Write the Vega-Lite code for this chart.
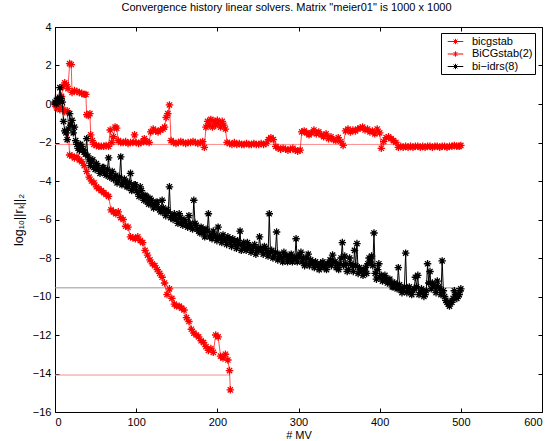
{
  "$schema": "https://vega.github.io/schema/vega-lite/v6.json",
  "width": 487,
  "height": 385,
  "autosize": "none",
  "padding": {"left": 55, "top": 27, "right": 8, "bottom": 29},
  "background": "white",
  "config": {
    "font": "Liberation Sans",
    "view": {"stroke": "#000000", "strokeWidth": 1},
    "axis": {"labelFontSize": 11, "labelColor": "#000", "titleFontSize": 11, "titleFontWeight": "normal", "titleColor": "#000", "tickColor": "#000", "grid": false, "domain": false, "tickSize": -4, "labelPadding": 8}
  },
  "title": {"text": "Convergence history linear solvers. Matrix \"meier01\" is 1000 x 1000", "fontSize": 11, "fontWeight": "normal", "color": "#000", "offset": 8, "dx": -12},
  "datasets": {
    "refs": [
      {"s": "bicgstab", "x": 0, "x2": 500, "y": -2.1},
      {"s": "BiCGstab(2)", "x": 0, "x2": 216, "y": -14.08},
      {"s": "bi-idrs(8)", "x": 0, "x2": 500, "y": -9.55}
    ],
    "bicgstab": [
      {"x":0,"y":0.0},{"x":2,"y":-0.2},{"x":4,"y":-0.1},{"x":6,"y":0.2},{"x":8,"y":0.4},{"x":10,"y":0.9},{"x":12,"y":1.1},{"x":14,"y":1.0},{"x":16,"y":0.8},{"x":18,"y":2.1},{"x":20,"y":2.05},{"x":21,"y":0.6},{"x":24,"y":0.7},{"x":27,"y":0.65},{"x":30,"y":0.6},{"x":33,"y":0.55},{"x":36,"y":0.5},{"x":38,"y":0.5},{"x":39,"y":-0.55},{"x":41,"y":-0.6},{"x":43,"y":-0.5},{"x":44,"y":-1.6},{"x":46,"y":-1.9},{"x":48,"y":-2.1},{"x":51,"y":-2.15},{"x":54,"y":-2.2},{"x":57,"y":-2.2},{"x":60,"y":-2.2},{"x":63,"y":-2.15},{"x":66,"y":-2.2},{"x":68,"y":-1.35},{"x":70,"y":-2.0},{"x":72,"y":-1.7},{"x":74,"y":-1.2},{"x":76,"y":-1.25},{"x":78,"y":-1.9},{"x":81,"y":-2.0},{"x":84,"y":-2.0},{"x":87,"y":-1.95},{"x":90,"y":-2.05},{"x":93,"y":-2.0},{"x":96,"y":-2.0},{"x":98,"y":-1.6},{"x":100,"y":-2.0},{"x":103,"y":-2.05},{"x":106,"y":-2.0},{"x":109,"y":-1.95},{"x":110,"y":-1.8},{"x":113,"y":-1.95},{"x":116,"y":-2.0},{"x":118,"y":-1.45},{"x":121,"y":-1.3},{"x":124,"y":-1.4},{"x":127,"y":-1.45},{"x":130,"y":-1.35},{"x":133,"y":-1.3},{"x":135,"y":-1.2},{"x":137,"y":-0.7},{"x":139,"y":-0.5},{"x":141,"y":-0.05},{"x":143,"y":-1.9},{"x":146,"y":-2.0},{"x":149,"y":-2.05},{"x":152,"y":-2.0},{"x":155,"y":-1.95},{"x":158,"y":-2.0},{"x":161,"y":-2.05},{"x":164,"y":-2.0},{"x":167,"y":-2.0},{"x":170,"y":-1.95},{"x":173,"y":-2.0},{"x":176,"y":-2.05},{"x":179,"y":-2.0},{"x":182,"y":-1.95},{"x":184,"y":-2.25},{"x":186,"y":-1.2},{"x":188,"y":-0.9},{"x":190,"y":-1.1},{"x":192,"y":-0.8},{"x":194,"y":-1.2},{"x":196,"y":-0.9},{"x":198,"y":-1.1},{"x":200,"y":-0.85},{"x":202,"y":-1.0},{"x":204,"y":-1.2},{"x":206,"y":-0.9},{"x":208,"y":-1.1},{"x":210,"y":-1.3},{"x":212,"y":-2.0},{"x":215,"y":-2.05},{"x":218,"y":-2.1},{"x":221,"y":-2.0},{"x":224,"y":-2.1},{"x":227,"y":-2.05},{"x":230,"y":-2.1},{"x":233,"y":-2.1},{"x":236,"y":-2.05},{"x":239,"y":-2.1},{"x":242,"y":-2.1},{"x":245,"y":-2.05},{"x":248,"y":-2.1},{"x":251,"y":-2.1},{"x":254,"y":-2.05},{"x":257,"y":-2.1},{"x":260,"y":-2.05},{"x":263,"y":-1.85},{"x":266,"y":-1.75},{"x":269,"y":-1.85},{"x":272,"y":-2.2},{"x":275,"y":-2.3},{"x":278,"y":-2.35},{"x":281,"y":-2.3},{"x":284,"y":-2.35},{"x":287,"y":-2.4},{"x":290,"y":-2.35},{"x":293,"y":-2.3},{"x":296,"y":-2.4},{"x":299,"y":-2.45},{"x":302,"y":-2.4},{"x":304,"y":-1.45},{"x":307,"y":-1.4},{"x":310,"y":-1.5},{"x":313,"y":-1.6},{"x":316,"y":-1.5},{"x":319,"y":-1.35},{"x":322,"y":-1.55},{"x":325,"y":-1.45},{"x":328,"y":-1.6},{"x":331,"y":-1.7},{"x":334,"y":-1.55},{"x":337,"y":-1.8},{"x":340,"y":-1.7},{"x":343,"y":-1.85},{"x":346,"y":-1.9},{"x":349,"y":-1.75},{"x":352,"y":-1.95},{"x":355,"y":-2.15},{"x":358,"y":-1.4},{"x":361,"y":-1.3},{"x":364,"y":-1.45},{"x":367,"y":-1.35},{"x":370,"y":-1.4},{"x":373,"y":-1.3},{"x":376,"y":-1.25},{"x":379,"y":-1.2},{"x":382,"y":-1.35},{"x":385,"y":-1.3},{"x":388,"y":-1.45},{"x":391,"y":-1.4},{"x":394,"y":-1.55},{"x":397,"y":-1.3},{"x":400,"y":-1.5},{"x":402,"y":-2.3},{"x":405,"y":-1.95},{"x":408,"y":-1.75},{"x":411,"y":-1.7},{"x":414,"y":-1.8},{"x":417,"y":-1.9},{"x":420,"y":-2.0},{"x":423,"y":-2.25},{"x":426,"y":-2.2},{"x":429,"y":-2.25},{"x":432,"y":-2.2},{"x":435,"y":-2.25},{"x":438,"y":-2.2},{"x":441,"y":-2.25},{"x":444,"y":-2.2},{"x":447,"y":-2.2},{"x":450,"y":-2.25},{"x":453,"y":-2.2},{"x":456,"y":-2.25},{"x":459,"y":-2.2},{"x":462,"y":-2.2},{"x":465,"y":-2.25},{"x":468,"y":-2.2},{"x":471,"y":-2.2},{"x":474,"y":-2.25},{"x":477,"y":-2.2},{"x":480,"y":-2.2},{"x":483,"y":-2.25},{"x":486,"y":-2.2},{"x":489,"y":-2.2},{"x":492,"y":-2.15},{"x":495,"y":-2.2},{"x":498,"y":-2.2},{"x":500,"y":-2.15}
    ],
    "bicgstab2": [
      {"x":0,"y":0.0},{"x":3,"y":-0.1},{"x":6,"y":-0.3},{"x":9,"y":-0.2},{"x":12,"y":-0.4},{"x":15,"y":-0.35},{"x":18,"y":-2.65},{"x":21,"y":-2.7},{"x":24,"y":-2.8},{"x":27,"y":-2.75},{"x":30,"y":-2.9},{"x":33,"y":-3.0},{"x":36,"y":-3.2},{"x":39,"y":-3.5},{"x":42,"y":-3.8},{"x":45,"y":-4.0},{"x":48,"y":-4.1},{"x":51,"y":-4.3},{"x":54,"y":-4.4},{"x":57,"y":-4.5},{"x":60,"y":-4.6},{"x":63,"y":-4.7},{"x":66,"y":-4.8},{"x":69,"y":-5.5},{"x":72,"y":-5.6},{"x":75,"y":-5.7},{"x":78,"y":-5.6},{"x":81,"y":-5.9},{"x":84,"y":-6.0},{"x":87,"y":-6.35},{"x":90,"y":-6.4},{"x":93,"y":-6.9},{"x":96,"y":-6.95},{"x":99,"y":-7.0},{"x":102,"y":-6.9},{"x":105,"y":-7.1},{"x":108,"y":-7.2},{"x":111,"y":-7.6},{"x":114,"y":-7.85},{"x":117,"y":-8.1},{"x":120,"y":-8.3},{"x":123,"y":-8.4},{"x":126,"y":-8.6},{"x":129,"y":-8.8},{"x":132,"y":-9.0},{"x":135,"y":-9.3},{"x":138,"y":-9.9},{"x":141,"y":-9.6},{"x":144,"y":-10.1},{"x":147,"y":-10.4},{"x":150,"y":-10.5},{"x":153,"y":-10.5},{"x":156,"y":-10.6},{"x":159,"y":-10.7},{"x":162,"y":-11.1},{"x":165,"y":-11.3},{"x":168,"y":-11.7},{"x":171,"y":-11.9},{"x":174,"y":-12.0},{"x":177,"y":-12.1},{"x":180,"y":-12.3},{"x":183,"y":-12.4},{"x":186,"y":-12.6},{"x":189,"y":-12.8},{"x":192,"y":-12.7},{"x":195,"y":-12.9},{"x":198,"y":-12.0},{"x":201,"y":-12.1},{"x":204,"y":-13.1},{"x":207,"y":-13.2},{"x":210,"y":-13.0},{"x":213,"y":-13.3},{"x":215,"y":-13.85},{"x":216,"y":-14.85}
    ],
    "biidrs8": [
      {"x":0,"y":0.1},{"x":3,"y":0.3},{"x":6,"y":0.85},{"x":9,"y":0.1},{"x":12,"y":-1.4},{"x":15,"y":-1.85},{"x":18,"y":-0.5},{"x":21,"y":-0.85},{"x":24,"y":-1.2},{"x":27,"y":-2.1},{"x":30,"y":-2.4},{"x":33,"y":-2.2},{"x":36,"y":-2.5},{"x":39,"y":-1.8},{"x":42,"y":-2.9},{"x":45,"y":-3.0},{"x":48,"y":-3.3},{"x":51,"y":-3.1},{"x":54,"y":-3.4},{"x":57,"y":-3.5},{"x":60,"y":-3.3},{"x":63,"y":-3.7},{"x":66,"y":-2.8},{"x":69,"y":-3.6},{"x":72,"y":-3.9},{"x":75,"y":-3.7},{"x":78,"y":-4.0},{"x":81,"y":-2.75},{"x":84,"y":-4.1},{"x":87,"y":-4.0},{"x":90,"y":-4.3},{"x":93,"y":-3.6},{"x":96,"y":-4.4},{"x":99,"y":-4.2},{"x":102,"y":-4.6},{"x":105,"y":-4.3},{"x":108,"y":-4.8},{"x":111,"y":-4.75},{"x":114,"y":-5.1},{"x":117,"y":-4.9},{"x":120,"y":-5.2},{"x":123,"y":-5.3},{"x":126,"y":-5.1},{"x":129,"y":-5.5},{"x":132,"y":-5.0},{"x":135,"y":-5.6},{"x":138,"y":-5.5},{"x":141,"y":-4.3},{"x":144,"y":-5.8},{"x":147,"y":-5.7},{"x":150,"y":-6.0},{"x":153,"y":-5.7},{"x":156,"y":-6.2},{"x":159,"y":-6.0},{"x":162,"y":-6.3},{"x":165,"y":-5.8},{"x":168,"y":-6.4},{"x":171,"y":-5.0},{"x":174,"y":-6.3},{"x":177,"y":-6.6},{"x":180,"y":-6.4},{"x":183,"y":-6.7},{"x":186,"y":-6.5},{"x":189,"y":-5.7},{"x":192,"y":-6.8},{"x":195,"y":-6.6},{"x":198,"y":-6.9},{"x":201,"y":-6.4},{"x":204,"y":-7.0},{"x":207,"y":-6.8},{"x":210,"y":-7.1},{"x":213,"y":-6.9},{"x":216,"y":-7.2},{"x":219,"y":-7.0},{"x":222,"y":-7.3},{"x":225,"y":-7.1},{"x":228,"y":-6.6},{"x":231,"y":-7.3},{"x":234,"y":-7.5},{"x":237,"y":-7.2},{"x":240,"y":-7.4},{"x":243,"y":-7.6},{"x":246,"y":-7.3},{"x":249,"y":-7.5},{"x":252,"y":-6.9},{"x":255,"y":-7.6},{"x":258,"y":-7.4},{"x":261,"y":-7.7},{"x":264,"y":-5.7},{"x":267,"y":-7.6},{"x":270,"y":-7.9},{"x":273,"y":-6.65},{"x":276,"y":-7.8},{"x":279,"y":-8.0},{"x":282,"y":-7.7},{"x":285,"y":-7.9},{"x":288,"y":-8.1},{"x":291,"y":-7.8},{"x":294,"y":-8.0},{"x":297,"y":-7.0},{"x":300,"y":-7.9},{"x":303,"y":-7.7},{"x":306,"y":-8.0},{"x":309,"y":-8.3},{"x":312,"y":-7.8},{"x":315,"y":-8.1},{"x":318,"y":-8.3},{"x":321,"y":-8.2},{"x":324,"y":-8.4},{"x":327,"y":-8.3},{"x":330,"y":-8.2},{"x":333,"y":-8.4},{"x":336,"y":-8.3},{"x":339,"y":-8.1},{"x":342,"y":-7.85},{"x":345,"y":-8.2},{"x":348,"y":-8.4},{"x":351,"y":-8.3},{"x":354,"y":-7.2},{"x":357,"y":-7.9},{"x":360,"y":-8.7},{"x":363,"y":-8.0},{"x":366,"y":-8.4},{"x":369,"y":-7.6},{"x":372,"y":-7.25},{"x":375,"y":-8.5},{"x":378,"y":-8.7},{"x":381,"y":-8.6},{"x":384,"y":-8.8},{"x":387,"y":-8.0},{"x":390,"y":-7.9},{"x":393,"y":-6.7},{"x":396,"y":-9.1},{"x":399,"y":-8.3},{"x":402,"y":-8.9},{"x":405,"y":-9.0},{"x":408,"y":-9.1},{"x":411,"y":-9.2},{"x":414,"y":-9.3},{"x":417,"y":-9.5},{"x":420,"y":-9.4},{"x":423,"y":-8.5},{"x":426,"y":-9.6},{"x":429,"y":-9.7},{"x":432,"y":-7.75},{"x":435,"y":-9.6},{"x":438,"y":-9.8},{"x":441,"y":-9.7},{"x":444,"y":-9.0},{"x":447,"y":-8.9},{"x":450,"y":-9.8},{"x":453,"y":-9.7},{"x":456,"y":-9.9},{"x":459,"y":-8.3},{"x":462,"y":-8.7},{"x":465,"y":-9.3},{"x":468,"y":-9.5},{"x":471,"y":-9.2},{"x":474,"y":-9.6},{"x":477,"y":-8.15},{"x":480,"y":-10.0},{"x":483,"y":-10.3},{"x":486,"y":-10.5},{"x":489,"y":-10.3},{"x":492,"y":-9.7},{"x":495,"y":-10.1},{"x":498,"y":-9.9},{"x":500,"y":-9.6},
      {"x":1.5,"y":0.0},{"x":4.5,"y":0.2},{"x":7.5,"y":0.3},{"x":10.5,"y":-0.9},{"x":13.5,"y":-1.5},{"x":16.5,"y":-1.3},{"x":19.5,"y":-1.1},{"x":22.5,"y":-1.5},{"x":25.5,"y":-1.9},{"x":28.5,"y":-2.3},{"x":31.5,"y":-2.1},{"x":34.5,"y":-2.4},{"x":37.5,"y":-2.6},{"x":40.5,"y":-2.7},{"x":43.5,"y":-3.2},{"x":46.5,"y":-2.9},{"x":49.5,"y":-3.4},{"x":52.5,"y":-3.2},{"x":55.5,"y":-3.6},{"x":58.5,"y":-3.3},{"x":61.5,"y":-3.6},{"x":64.5,"y":-3.4},{"x":67.5,"y":-3.8},{"x":70.5,"y":-3.5},{"x":73.5,"y":-3.8},{"x":76.5,"y":-4.1},{"x":79.5,"y":-3.8},{"x":82.5,"y":-4.2},{"x":85.5,"y":-3.9},{"x":88.5,"y":-4.3},{"x":91.5,"y":-4.1},{"x":94.5,"y":-4.5},{"x":97.5,"y":-4.2},{"x":100.5,"y":-4.5},{"x":103.5,"y":-4.8},{"x":106.5,"y":-4.5},{"x":109.5,"y":-5.0},{"x":112.5,"y":-4.8},{"x":115.5,"y":-5.2},{"x":118.5,"y":-5.0},{"x":121.5,"y":-5.4},{"x":124.5,"y":-5.1},{"x":127.5,"y":-5.4},{"x":130.5,"y":-5.6},{"x":133.5,"y":-5.4},{"x":136.5,"y":-5.8},{"x":139.5,"y":-5.6},{"x":142.5,"y":-5.9},{"x":145.5,"y":-6.0},{"x":148.5,"y":-5.8},{"x":151.5,"y":-6.2},{"x":154.5,"y":-5.9},{"x":157.5,"y":-6.3},{"x":160.5,"y":-6.1},{"x":163.5,"y":-6.4},{"x":166.5,"y":-6.2},{"x":169.5,"y":-6.5},{"x":172.5,"y":-6.2},{"x":175.5,"y":-6.5},{"x":178.5,"y":-6.7},{"x":181.5,"y":-6.5},{"x":184.5,"y":-6.9},{"x":187.5,"y":-6.6},{"x":190.5,"y":-6.9},{"x":193.5,"y":-7.0},{"x":196.5,"y":-6.8},{"x":199.5,"y":-7.1},{"x":202.5,"y":-6.9},{"x":205.5,"y":-7.2},{"x":208.5,"y":-7.0},{"x":211.5,"y":-7.3},{"x":214.5,"y":-7.0},{"x":217.5,"y":-7.4},{"x":220.5,"y":-7.1},{"x":223.5,"y":-7.5},{"x":226.5,"y":-7.3},{"x":229.5,"y":-7.6},{"x":232.5,"y":-7.2},{"x":235.5,"y":-7.6},{"x":238.5,"y":-7.4},{"x":241.5,"y":-7.7},{"x":244.5,"y":-7.4},{"x":247.5,"y":-7.8},{"x":250.5,"y":-7.6},{"x":253.5,"y":-7.5},{"x":256.5,"y":-7.8},{"x":259.5,"y":-7.5},{"x":262.5,"y":-7.9},{"x":265.5,"y":-7.7},{"x":268.5,"y":-8.0},{"x":271.5,"y":-7.7},{"x":274.5,"y":-8.1},{"x":277.5,"y":-7.9},{"x":280.5,"y":-8.2},{"x":283.5,"y":-7.9},{"x":286.5,"y":-8.2},{"x":289.5,"y":-7.9},{"x":292.5,"y":-8.2},{"x":295.5,"y":-8.0},{"x":298.5,"y":-8.2},{"x":301.5,"y":-7.9},{"x":304.5,"y":-8.2},{"x":307.5,"y":-8.4},{"x":310.5,"y":-8.0},{"x":313.5,"y":-8.4},{"x":316.5,"y":-8.2},{"x":319.5,"y":-8.5},{"x":322.5,"y":-8.3},{"x":325.5,"y":-8.6},{"x":328.5,"y":-8.4},{"x":331.5,"y":-8.5},{"x":334.5,"y":-8.6},{"x":337.5,"y":-8.3},{"x":340.5,"y":-8.4},{"x":343.5,"y":-8.2},{"x":346.5,"y":-8.5},{"x":349.5,"y":-8.6},{"x":352.5,"y":-8.0},{"x":355.5,"y":-8.4},{"x":358.5,"y":-8.3},{"x":361.5,"y":-8.6},{"x":364.5,"y":-8.3},{"x":367.5,"y":-8.7},{"x":370.5,"y":-8.4},{"x":373.5,"y":-8.8},{"x":376.5,"y":-8.6},{"x":379.5,"y":-8.9},{"x":382.5,"y":-8.5},{"x":385.5,"y":-8.3},{"x":388.5,"y":-8.2},{"x":391.5,"y":-8.4},{"x":394.5,"y":-8.8},{"x":397.5,"y":-8.6},{"x":400.5,"y":-9.0},{"x":403.5,"y":-9.2},{"x":406.5,"y":-8.9},{"x":409.5,"y":-9.3},{"x":412.5,"y":-9.1},{"x":415.5,"y":-9.5},{"x":418.5,"y":-9.3},{"x":421.5,"y":-9.6},{"x":424.5,"y":-9.4},{"x":427.5,"y":-9.8},{"x":430.5,"y":-9.5},{"x":433.5,"y":-9.8},{"x":436.5,"y":-9.5},{"x":439.5,"y":-9.9},{"x":442.5,"y":-9.6},{"x":445.5,"y":-9.5},{"x":448.5,"y":-9.9},{"x":451.5,"y":-9.6},{"x":454.5,"y":-10.0},{"x":457.5,"y":-9.7},{"x":460.5,"y":-9.3},{"x":463.5,"y":-9.6},{"x":466.5,"y":-9.4},{"x":469.5,"y":-9.8},{"x":472.5,"y":-9.5},{"x":475.5,"y":-9.9},{"x":478.5,"y":-9.7},{"x":481.5,"y":-10.2},{"x":484.5,"y":-10.4},{"x":487.5,"y":-10.3},{"x":490.5,"y":-10.1},{"x":493.5,"y":-9.9},{"x":496.5,"y":-10.0},{"x":499,"y":-9.7}
    ]
  },
  "layer": [
    {
      "data": {"name": "refs"},
      "mark": {"type": "rule", "strokeWidth": 1},
      "encoding": {
        "x": {"field": "x", "type": "quantitative", "scale": {"domain": [0, 600], "nice": false, "zero": false}, "axis": {"orient": "top", "labels": false, "title": null, "values": [0, 100, 200, 300, 400, 500, 600]}},
        "x2": {"field": "x2"},
        "y": {"field": "y", "type": "quantitative", "scale": {"domain": [-16, 4], "nice": false, "zero": false}, "axis": {"orient": "right", "labels": false, "title": null, "values": [-16, -14, -12, -10, -8, -6, -4, -2, 0, 2, 4]}},
        "stroke": {"field": "s", "type": "nominal", "scale": {"domain": ["bicgstab", "BiCGstab(2)", "bi-idrs(8)"], "range": ["#ff8c8c", "#ff8c8c", "#999999"]}, "legend": null}
      }
    },
    {
      "encoding": {
        "x": {"field": "x", "type": "quantitative", "scale": {"domain": [0, 600], "nice": false, "zero": false}, "axis": {"orient": "bottom", "title": "# MV", "titlePadding": 2, "values": [0, 100, 200, 300, 400, 500, 600]}},
        "y": {"field": "y", "type": "quantitative", "scale": {"domain": [-16, 4], "nice": false, "zero": false}, "axis": {"orient": "left", "title": "log₁₀||rₖ||₂", "titleFontSize": 12.5, "titlePadding": 7, "values": [-16, -14, -12, -10, -8, -6, -4, -2, 0, 2, 4]}}
      },
      "layer": [
        {"data": {"name": "bicgstab"}, "mark": {"type": "line", "strokeWidth": 0.7},
         "encoding": {"color": {"datum": "bicgstab", "type": "nominal", "scale": {"domain": ["bicgstab", "BiCGstab(2)", "bi−idrs(8)"], "range": ["#ff0000", "#ff0000", "#000000"]},
           "legend": {"title": null, "orient": "none", "legendX": 386, "legendY": 6, "fillColor": "#ffffff", "strokeColor": "#000000", "padding": 2, "cornerRadius": 0, "rowPadding": 0.5, "labelFontSize": 11, "labelColor": "#000", "symbolType": "M-1.3,0L1.3,0M0,-0.45L0,0.45M-0.32,-0.32L0.32,0.32M-0.32,0.32L0.32,-0.32", "symbolSize": 144, "symbolStrokeWidth": 1, "symbolOffset": 6, "labelOffset": 10}}}},
        {"data": {"name": "bicgstab"}, "mark": {"type": "point", "shape": "M-1,0L1,0M0,-1L0,1M-0.7,-0.7L0.7,0.7M-0.7,0.7L0.7,-0.7", "filled": false, "size": 56, "strokeWidth": 1.3, "opacity": 1},
         "encoding": {"color": {"datum": "bicgstab", "type": "nominal"}}},
        {"data": {"name": "bicgstab2"}, "mark": {"type": "line", "strokeWidth": 0.7},
         "encoding": {"color": {"datum": "BiCGstab(2)", "type": "nominal"}}},
        {"data": {"name": "bicgstab2"}, "mark": {"type": "point", "shape": "M-1,0L1,0M0,-1L0,1M-0.7,-0.7L0.7,0.7M-0.7,0.7L0.7,-0.7", "filled": false, "size": 56, "strokeWidth": 1.3, "opacity": 1},
         "encoding": {"color": {"datum": "BiCGstab(2)", "type": "nominal"}}},
        {"data": {"name": "biidrs8"}, "mark": {"type": "line", "strokeWidth": 1},
         "encoding": {"color": {"datum": "bi−idrs(8)", "type": "nominal"}}},
        {"data": {"name": "biidrs8"}, "mark": {"type": "point", "shape": "M-1,0L1,0M0,-1L0,1M-0.7,-0.7L0.7,0.7M-0.7,0.7L0.7,-0.7", "filled": false, "size": 56, "strokeWidth": 1.3, "opacity": 1},
         "encoding": {"color": {"datum": "bi−idrs(8)", "type": "nominal"}}}
      ]
    }
  ],
  "resolve": {"scale": {"x": "independent", "y": "independent"}}
}
